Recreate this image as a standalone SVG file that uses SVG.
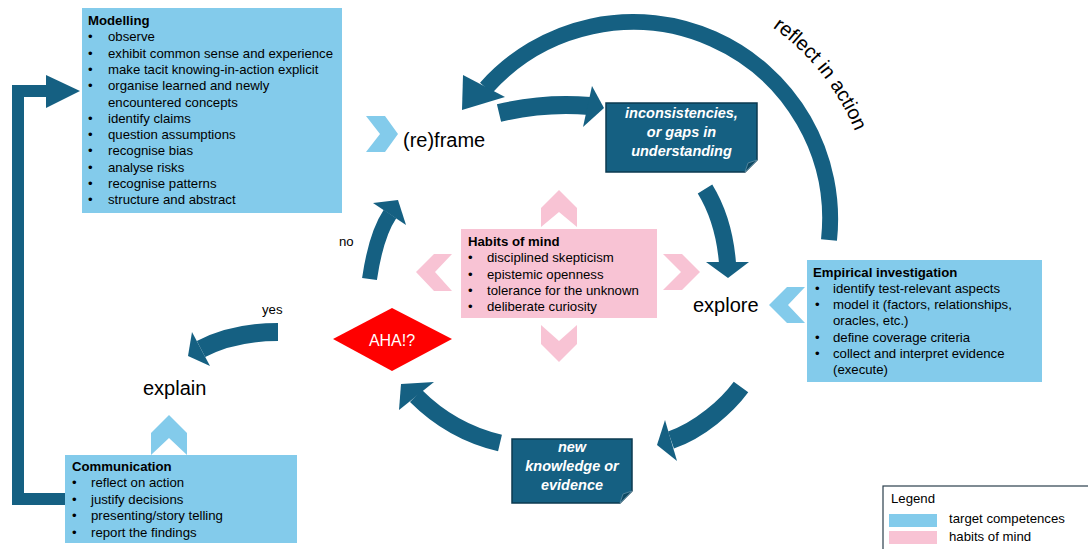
<svg xmlns="http://www.w3.org/2000/svg" width="1088" height="549" viewBox="0 0 1088 549">
<style>
text{font-family:"Liberation Sans",Arial,sans-serif;fill:#000}
.t{font-size:13.2px}
.b{font-weight:bold}
.big{font-size:20px}
.note{font-size:14.5px;font-weight:bold;font-style:italic;fill:#fff;text-anchor:middle}
.blue{fill:#83CBEB}
.pink{fill:#F8C3D4}
.teal{fill:#156082}
.ts{fill:none;stroke:#156082}
.notebox{fill:#156082;stroke:#0B3A50;stroke-width:1.5}
.fold{fill:#0F4A63;stroke:#5C8CA3;stroke-width:0.8}
</style>
<defs>
<path id="raPath" d="M772.5,27.5 A236,236 0 0 1 866,165"/>
</defs>
<rect width="1088" height="549" fill="#fff"/>

<g id="connectors">
  <path class="teal" d="M12,505 V85 H46 V75 L80,91 L46,108 V97 H24 V493 H67 V505 Z"/>
  <path class="ts" stroke-width="16" d="M829,240 A197,197 0 0 0 486,88"/>
  <polygon class="teal" points="463,75 505,97 462,110"/>
  <path class="ts" stroke-width="18" d="M499,113 Q545,102 590,106"/>
  <polygon class="teal" points="592,86 604,108 583,127"/>
  <path class="ts" stroke-width="17" d="M705,189 Q724,220 727.5,263"/>
  <polygon class="teal" points="706,262 749,262 728,278"/>
  <path class="ts" stroke-width="18" d="M741,387 C727,406 700,430 671,440"/>
  <polygon class="teal" points="665,420 677,461 657,445"/>
  <path class="ts" stroke-width="17" d="M500,443 C470,436 440,420 416,396"/>
  <polygon class="teal" points="434,382 399,410 401,384"/>
  <path class="ts" stroke-width="15" d="M369.5,279 C372,262 378,232 390,214"/>
  <polygon class="teal" points="373,203 406,225 398,200"/>
  <path class="ts" stroke-width="18" d="M278,332 C250,332 222,338 201,349"/>
  <polygon class="teal" points="192,332 210,366 188,356"/>
  <text font-size="20"><textPath href="#raPath">reflect in action</textPath></text>
  <text class="t" x="339" y="246">no</text>
  <text class="t" x="262" y="314">yes</text>
</g>

<g id="chevrons">
  <polygon class="blue" points="366,116 385,116 398,134 385,152 366,152 380,134"/>
  <polygon class="blue" points="769,305 787,287 805,287 788,305 805,323 787,323"/>
  <polygon class="blue" points="151,455 151,433 169,415 187,433 187,455 169,438"/>
  <polygon class="pink" points="541,227 541,208 559,190 577,208 577,227 559,212"/>
  <polygon class="pink" points="541,325 559,341 577,325 577,344 559,362 541,344"/>
  <polygon class="pink" points="416,272 434,254 452,254 435,272 452,291 434,291"/>
  <polygon class="pink" points="663,254 682,254 700,272 682,290 663,290 681,272"/>
</g>

<g id="modelling">
  <rect class="blue" x="82" y="8" width="260" height="205"/>
  <text class="t b" x="88" y="25">Modelling</text>
  <g class="t">
    <text x="88" y="41.3">•</text><text x="108" y="41.3">observe</text>
    <text x="88" y="57.6">•</text><text x="108" y="57.6">exhibit common sense and experience</text>
    <text x="88" y="73.9">•</text><text x="108" y="73.9">make tacit knowing-in-action explicit</text>
    <text x="88" y="90.2">•</text><text x="108" y="90.2">organise learned and newly</text>
    <text x="108" y="106.5">encountered concepts</text>
    <text x="88" y="122.8">•</text><text x="108" y="122.8">identify claims</text>
    <text x="88" y="139.1">•</text><text x="108" y="139.1">question assumptions</text>
    <text x="88" y="155.4">•</text><text x="108" y="155.4">recognise bias</text>
    <text x="88" y="171.7">•</text><text x="108" y="171.7">analyse risks</text>
    <text x="88" y="188">•</text><text x="108" y="188">recognise patterns</text>
    <text x="88" y="204.3">•</text><text x="108" y="204.3">structure and abstract</text>
  </g>
</g>

<g id="reframe">
  <text class="big" x="403" y="147">(re)frame</text>
</g>

<g id="inconsistencies">
  <path class="notebox" d="M606,103 H757 V160 L745,172 H606 Z"/>
  <path class="fold" d="M745,172 L748,163 L757,160 Z"/>
  <text class="note" x="681.5" y="118">inconsistencies,</text>
  <text class="note" x="681.5" y="137">or gaps in</text>
  <text class="note" x="681.5" y="156">understanding</text>
</g>

<g id="habits">
  <rect class="pink" x="461" y="229" width="196" height="89"/>
  <text class="t b" x="468" y="246">Habits of mind</text>
  <g class="t">
    <text x="468" y="262">•</text><text x="487" y="262">disciplined skepticism</text>
    <text x="468" y="278.5">•</text><text x="487" y="278.5">epistemic openness</text>
    <text x="468" y="294.5">•</text><text x="487" y="294.5">tolerance for the unknown</text>
    <text x="468" y="311">•</text><text x="487" y="311">deliberate curiosity</text>
  </g>
</g>

<g id="explore">
  <text class="big" x="693" y="312">explore</text>
</g>

<g id="empirical">
  <rect class="blue" x="807" y="260" width="235" height="122"/>
  <text class="t b" x="813" y="276.5">Empirical investigation</text>
  <g class="t">
    <text x="815" y="292.5">•</text><text x="833" y="292.5">identify test-relevant aspects</text>
    <text x="815" y="308.5">•</text><text x="833" y="308.5">model it (factors, relationships,</text>
    <text x="833" y="325">oracles, etc.)</text>
    <text x="815" y="342">•</text><text x="833" y="342">define coverage criteria</text>
    <text x="815" y="357.5">•</text><text x="833" y="357.5">collect and interpret evidence</text>
    <text x="833" y="373.5">(execute)</text>
  </g>
</g>

<g id="aha">
  <polygon fill="#FF0000" points="333,339 392,308 452,339 392,371"/>
  <text x="392" y="345.5" font-size="16" text-anchor="middle" style="fill:#fff">AHA!?</text>
</g>

<g id="newknowledge">
  <path class="notebox" d="M512,439 H632 V491 L620,503 H512 Z"/>
  <path class="fold" d="M620,503 L623,494 L632,491 Z"/>
  <text class="note" x="572" y="452">new</text>
  <text class="note" x="572" y="471">knowledge or</text>
  <text class="note" x="572" y="490">evidence</text>
</g>

<g id="explain">
  <text class="big" x="143" y="395">explain</text>
</g>

<g id="communication">
  <rect class="blue" x="65" y="455" width="232" height="88"/>
  <text class="t b" x="72" y="471">Communication</text>
  <g class="t">
    <text x="72" y="487">•</text><text x="91" y="487">reflect on action</text>
    <text x="72" y="503.5">•</text><text x="91" y="503.5">justify decisions</text>
    <text x="72" y="520">•</text><text x="91" y="520">presenting/story telling</text>
    <text x="72" y="536.5">•</text><text x="91" y="536.5">report the findings</text>
  </g>
</g>

<g id="legend">
  <rect x="883" y="486" width="215" height="70" fill="#fff" stroke="#2B3F4C" stroke-width="1.2"/>
  <text class="t" x="891" y="503">Legend</text>
  <rect class="blue" x="889" y="514" width="48" height="13"/>
  <rect class="pink" x="889" y="531" width="48" height="13"/>
  <text class="t" x="949" y="523">target competences</text>
  <text class="t" x="949" y="541">habits of mind</text>
</g>
</svg>
